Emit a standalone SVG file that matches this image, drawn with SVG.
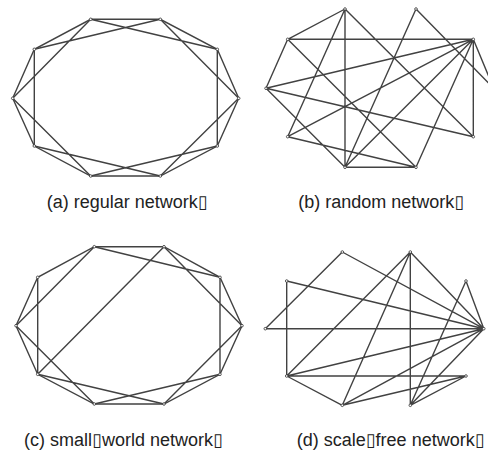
<svg xmlns="http://www.w3.org/2000/svg" width="488" height="454" viewBox="0 0 488 454">
<style>
.e{stroke:#424242;stroke-width:1.4;fill:none;stroke-linecap:round}
.n circle{fill:#fff;stroke:#333;stroke-width:0.8}
.t{font-family:"Liberation Sans","DejaVu Sans",sans-serif;font-size:18px;fill:#222}
</style>
<rect width="488" height="454" fill="#fff"/>
<g id="connectors" class="e">
<!-- (a) regular -->
<path d="M90.7,19.3L160.3,19.3L217.3,49.3L238.7,98.3L217.3,146L160.3,176L90.7,176L34.3,146L12.7,98.3L34.3,49.3Z"/>
<path d="M90.7,19.3L217.3,49.3M160.3,19.3L238.7,98.3M217.3,49.3L217.3,146M238.7,98.3L160.3,176M217.3,146L90.7,176M160.3,176L34.3,146M90.7,176L12.7,98.3M34.3,146L34.3,49.3M12.7,98.3L90.7,19.3M34.3,49.3L160.3,19.3"/>
<!-- (b) random -->
<path d="M345,9L287.7,39.3M345,9L345,167.3M345,9L287.7,136.7M345,9L473.3,136.7M416,9L345,167.3M416,9L493.7,88.3M287.7,39.3L473.3,39.3M287.7,39.3L266,88.3M287.7,39.3L416,167.3M266,88.3L473.3,39.3M266,88.3L473.3,136.7M266,88.3L345,167.3M287.7,136.7L473.3,39.3M287.7,136.7L416,167.3M345,167.3L473.3,39.3M345,167.3L416,167.3M416,167.3L473.3,39.3M473.3,39.3L473.3,136.7M473.3,39.3L493.7,88.3"/>
<!-- (c) small world -->
<path d="M94.3,246.7L164,246.7L220,277.3L242,325.7L220,374.3L164,404L94.3,404L37.7,374.3L16,325.7L37.7,277.3Z"/>
<path d="M94.3,246.7L220,277.3M164,246.7L242,325.7M220,277.3L220,374.3M242,325.7L164,404M220,374.3L94.3,404M164,404L37.7,374.3M94.3,404L16,325.7M37.7,374.3L37.7,277.3M16,325.7L94.3,246.7M164,246.7L37.7,374.3"/>
<!-- (d) scale free -->
<path d="M265.3,328.7L342.3,252M342.3,252L483.8,328.7M286.7,281L483.8,328.7M286.7,281L286.7,376M265.3,328.7L483.8,328.7M410.3,252L286.7,376M410.3,252L342.3,405.3M410.3,252L410.3,405.3M410.3,252L483.8,328.7M466,281L483.8,328.7M466,281L410.3,405.3M286.7,376L483.8,328.7M286.7,376L466,376M286.7,376L342.3,405.3M342.3,405.3L483.8,328.7M342.3,405.3L466,376M410.3,405.3L483.8,328.7M410.3,405.3L466,376"/>
</g>
<g class="n">
<g id="a0"><circle cx="90.7" cy="19.3" r="1.3"/></g>
<g id="a1"><circle cx="160.3" cy="19.3" r="1.3"/></g>
<g id="a2"><circle cx="217.3" cy="49.3" r="1.3"/></g>
<g id="a3"><circle cx="238.7" cy="98.3" r="1.3"/></g>
<g id="a4"><circle cx="217.3" cy="146" r="1.3"/></g>
<g id="a5"><circle cx="160.3" cy="176" r="1.3"/></g>
<g id="a6"><circle cx="90.7" cy="176" r="1.3"/></g>
<g id="a7"><circle cx="34.3" cy="146" r="1.3"/></g>
<g id="a8"><circle cx="12.7" cy="98.3" r="1.3"/></g>
<g id="a9"><circle cx="34.3" cy="49.3" r="1.3"/></g>
<g id="b0"><circle cx="345" cy="9" r="1.3"/></g>
<g id="b1"><circle cx="416" cy="9" r="1.3"/></g>
<g id="b2"><circle cx="287.7" cy="39.3" r="1.3"/></g>
<g id="b3"><circle cx="473.3" cy="39.3" r="1.3"/></g>
<g id="b4"><circle cx="266" cy="88.3" r="1.3"/></g>
<g id="b5"><circle cx="287.7" cy="136.7" r="1.3"/></g>
<g id="b6"><circle cx="473.3" cy="136.7" r="1.3"/></g>
<g id="b7"><circle cx="345" cy="167.3" r="1.3"/></g>
<g id="b8"><circle cx="416" cy="167.3" r="1.3"/></g>
<g id="c0"><circle cx="94.3" cy="246.7" r="1.3"/></g>
<g id="c1"><circle cx="164" cy="246.7" r="1.3"/></g>
<g id="c2"><circle cx="220" cy="277.3" r="1.3"/></g>
<g id="c3"><circle cx="242" cy="325.7" r="1.3"/></g>
<g id="c4"><circle cx="220" cy="374.3" r="1.3"/></g>
<g id="c5"><circle cx="164" cy="404" r="1.3"/></g>
<g id="c6"><circle cx="94.3" cy="404" r="1.3"/></g>
<g id="c7"><circle cx="37.7" cy="374.3" r="1.3"/></g>
<g id="c8"><circle cx="16" cy="325.7" r="1.3"/></g>
<g id="c9"><circle cx="37.7" cy="277.3" r="1.3"/></g>
<g id="d0"><circle cx="342.3" cy="252" r="1.3"/></g>
<g id="d1"><circle cx="410.3" cy="252" r="1.3"/></g>
<g id="d2"><circle cx="286.7" cy="281" r="1.3"/></g>
<g id="d3"><circle cx="466" cy="281" r="1.3"/></g>
<g id="d4"><circle cx="265.3" cy="328.7" r="1.3"/></g>
<g id="d5"><circle cx="483.8" cy="328.7" r="1.3"/></g>
<g id="d6"><circle cx="286.7" cy="376" r="1.3"/></g>
<g id="d7"><circle cx="466" cy="376" r="1.3"/></g>
<g id="d8"><circle cx="342.3" cy="405.3" r="1.3"/></g>
<g id="d9"><circle cx="410.3" cy="405.3" r="1.3"/></g>
</g>
<g id="labels" class="t">
<text x="46.7" y="208">(a) regular network▯</text>
<text x="298.3" y="208">(b) random network▯</text>
<text x="24" y="446">(c) small▯world network▯</text>
<text x="296.7" y="446">(d) scale▯free network▯</text>
</g>
</svg>
